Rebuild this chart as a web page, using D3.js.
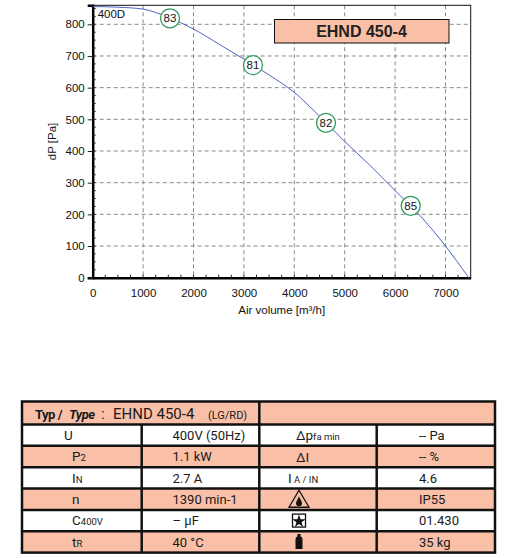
<!DOCTYPE html>
<html>
<head>
<meta charset="utf-8">
<script src="https://cdn.jsdelivr.net/npm/d3@7"></script>
<style>
  body { margin: 0; background: #fff; }
  svg { display: block; }
</style>
</head>
<body>
<div id="chart1"></div>
<script>
const width = 505;
const height = 558;

// fan curve (air volume m3/h -> static pressure Pa)
const airVolume = [0, 500, 1000, 1500, 2000, 2500, 3000, 3500, 4000, 4500, 5000, 5500, 6000, 6500, 7000, 7460];
const pressure = [856, 854, 848, 822, 785, 738, 690, 640, 585, 510, 430, 355, 275, 195, 100, 0];

// noise level markers on the curve
const markerFlow = [1534, 3180, 4629, 6310];
const markerPressure = [819, 671, 489, 227];
const markerLevel = ["83", "81", "82", "85"];

const xTicks = [0, 1000, 2000, 3000, 4000, 5000, 6000, 7000];
const yTicks = [0, 100, 200, 300, 400, 500, 600, 700, 800];

const modelName = "EHND 450-4";
const curveName = "400D";

// table
const leftSymbols = [["U", ""], ["P", "2"], ["I", "N"], ["n", ""], ["C", "400V"], ["t", "R"]];
const leftValues = ["400V (50Hz)", "1.1 kW", "2.7 A", "1390 min-1", "\u2013 \u00b5F", "40 \u00b0C"];
const rightSymbols = [["\u0394p", "fa min"], ["\u0394I", ""], ["I", " A / I", "N"], ["warn"], ["star"], ["weight"]];
const rightValues = ["-- Pa", "-- %", "4.6", "IP55", "01.430", "35 kg"];

const salmon = "#f9c0a7";

const margin = {top: 5.3, left: 92.7, right: 505 - 470.7, bottom: 558 - 277.7};

const svg = d3.select("#chart1").append("svg").attr("width", width).attr("height", height)
    .style("font-family", "'Liberation Sans', Arial, sans-serif");

const xScale = d3.scaleLinear().domain([0, 7500]).range([margin.left, width - margin.right]);
const yScale = d3.scaleLinear().domain([0, 860]).range([height - margin.bottom, margin.top]);

const plotBottom = yScale(0), plotTop = yScale(860), plotLeft = xScale(0), plotRight = xScale(7500);

// grid
svg.append("g").selectAll("line.vgrid")
    .data(xTicks.slice(1))
    .join("line")
    .attr("x1", d => xScale(d)).attr("x2", d => xScale(d))
    .attr("y1", plotTop).attr("y2", plotBottom)
    .attr("stroke", "#8a8a8a").attr("stroke-width", 1).attr("stroke-dasharray", "4,3");

svg.append("g").selectAll("line.hgrid")
    .data(yTicks.slice(1))
    .join("line")
    .attr("x1", plotLeft).attr("x2", plotRight)
    .attr("y1", d => yScale(d)).attr("y2", d => yScale(d))
    .attr("stroke", "#8a8a8a").attr("stroke-width", 1).attr("stroke-dasharray", "4,3");

// frame
svg.append("rect")
    .attr("x", plotLeft).attr("y", plotTop)
    .attr("width", plotRight - plotLeft).attr("height", plotBottom - plotTop)
    .attr("fill", "none").attr("stroke", "#111").attr("stroke-width", 1);

// axes
const xAxis = d3.axisBottom(xScale).tickValues(xTicks).tickSize(0).tickPadding(11).tickFormat(d3.format("d"));
const yAxis = d3.axisLeft(yScale).tickValues(yTicks).tickSize(5).tickPadding(3).tickFormat(d3.format("d"));

const gx = svg.append("g").attr("transform", `translate(0,${plotBottom})`).call(xAxis);
const gy = svg.append("g").attr("transform", `translate(${plotLeft},0)`).call(yAxis);
[gx, gy].forEach(g => {
    g.select(".domain").attr("stroke", "#000").attr("stroke-width", 2.5);
    g.selectAll("text").attr("font-size", 11.5).attr("fill", "#111").attr("font-family", "'Liberation Sans', Arial, sans-serif");
    g.selectAll(".tick line").attr("stroke", "#222");
});

// minor ticks
svg.append("g").selectAll("line")
    .data(d3.range(250, 7500, 250))
    .join("line")
    .attr("x1", d => xScale(d)).attr("x2", d => xScale(d))
    .attr("y1", plotBottom).attr("y2", plotBottom - 3)
    .attr("stroke", "#222").attr("stroke-width", 1);

svg.append("g").selectAll("line")
    .data(d3.range(25, 860, 25))
    .join("line")
    .attr("x1", plotLeft).attr("x2", plotLeft + 3)
    .attr("y1", d => yScale(d)).attr("y2", d => yScale(d))
    .attr("stroke", "#222").attr("stroke-width", 1);

// axis titles
svg.append("text")
    .attr("transform", `translate(56,${(plotTop + plotBottom) / 2}) rotate(-90)`)
    .attr("text-anchor", "middle")
    .attr("font-size", 11.5).attr("fill", "#111")
    .text("dP [Pa]");

svg.append("text")
    .attr("x", (plotLeft + plotRight) / 2).attr("y", 314)
    .attr("text-anchor", "middle")
    .attr("font-size", 11.5).attr("fill", "#111")
    .text("Air volume [m\u00b3/h]");

// curve
const curveData = airVolume.map((v, i) => ({flow: v, dp: pressure[i]}));
svg.append("path")
    .datum(curveData)
    .attr("fill", "none")
    .attr("stroke", "#4e63c4")
    .attr("stroke-width", 1)
    .attr("d", d3.line().curve(d3.curveMonotoneX).x(d => xScale(d.flow)).y(d => yScale(d.dp)));

svg.append("text")
    .attr("x", plotLeft + 5).attr("y", plotTop + 13)
    .attr("font-size", 11.5).attr("fill", "#111")
    .text(curveName);

// markers
const markerData = markerFlow.map((v, i) => ({flow: v, dp: markerPressure[i], lvl: markerLevel[i]}));
const mk = svg.append("g").selectAll("g.marker")
    .data(markerData)
    .join("g")
    .attr("class", "marker")
    .attr("transform", d => `translate(${xScale(d.flow)},${yScale(d.dp)})`);
mk.append("circle").attr("r", 9.5).attr("fill", "#fff").attr("stroke", "#2f9a5c").attr("stroke-width", 1.3);
mk.append("text").attr("text-anchor", "middle").attr("dy", 4).attr("font-size", 11.5).attr("fill", "#111").text(d => d.lvl);

// title box
svg.append("rect")
    .attr("x", 274.5).attr("y", 19.5).attr("width", 174.5).attr("height", 23.5)
    .attr("fill", salmon).attr("stroke", "#111").attr("stroke-width", 1);
svg.append("text")
    .attr("x", 361.5).attr("y", 37)
    .attr("text-anchor", "middle")
    .attr("font-size", 16).attr("font-weight", "bold").attr("fill", "#222")
    .text(modelName);

// ---------- table ----------
const tableLeft = 22, tableRight = 495;
const tableTop = 401.5, headerH = 23, rowH = 21.35;
const colX = [tableLeft, 141.7, 259.3, 376.7, tableRight];
const tableBottom = tableTop + headerH + rowH * leftSymbols.length;
const rowTop = i => tableTop + headerH + i * rowH;

const tbl = svg.append("g").attr("font-family", "Roboto, 'Liberation Sans', sans-serif").attr("fill", "#1a1a1a");

// backgrounds
tbl.append("rect").attr("x", tableLeft).attr("y", tableTop)
    .attr("width", tableRight - tableLeft).attr("height", headerH).attr("fill", salmon);
tbl.selectAll("rect.row")
    .data(leftSymbols)
    .join("rect")
    .attr("class", "row")
    .attr("x", tableLeft).attr("y", (d, i) => rowTop(i))
    .attr("width", tableRight - tableLeft).attr("height", rowH)
    .attr("fill", (d, i) => i % 2 ? salmon : "#fff");

// header text
const hdr = tbl.append("text").attr("y", tableTop + 17).attr("font-size", 14);
hdr.append("tspan").attr("x", 35).attr("font-weight", "bold").attr("font-size", 13).attr("letter-spacing", -0.5).text("Typ /");
hdr.append("tspan").attr("x", 69).attr("font-weight", "bold").attr("font-style", "italic").attr("font-size", 13).attr("letter-spacing", -0.5).text("Type");
hdr.append("tspan").attr("x", 101).attr("font-size", 15).text(":");
hdr.append("tspan").attr("x", 113).attr("font-size", 15).text(modelName);
hdr.append("tspan").attr("x", 208).attr("font-size", 11).text("(LG/RD)");

// left symbols
tbl.selectAll("text.lsym")
    .data(leftSymbols)
    .join("text")
    .attr("class", "lsym")
    .attr("x", (d, i) => i === 0 ? 64 : 72)
    .attr("y", (d, i) => rowTop(i) + 15.5)
    .attr("font-size", 13.5)
    .each(function(d) {
        const t = d3.select(this);
        t.append("tspan").text(d[0]);
        if (d[1]) t.append("tspan").attr("font-size", 9.5).text(d[1]);
    });

tbl.selectAll("text.lval")
    .data(leftValues)
    .join("text")
    .attr("class", "lval")
    .attr("x", 172.5)
    .attr("y", (d, i) => rowTop(i) + 15.5)
    .attr("font-size", 13)
    .text(d => d);

// right symbols
tbl.selectAll("g.rsym")
    .data(rightSymbols)
    .join("g")
    .attr("class", "rsym")
    .attr("transform", (d, i) => `translate(299,${rowTop(i) + rowH / 2})`)
    .each(function(d) {
        const g = d3.select(this);
        if (d[0] === "warn") {
            g.append("path").attr("d", "M0,-9 L10,8 L-10,8 Z").attr("fill", "none").attr("stroke", "#111").attr("stroke-width", 1.3);
            g.append("path").attr("d", "M0,-3 C1,0 3,2 3,4 A3,3 0 0 1 -3,4 C-3,2 -1,0 0,-3 Z").attr("fill", "#111");
        } else if (d[0] === "star") {
            g.append("rect").attr("x", -6.5).attr("y", -6.5).attr("width", 13).attr("height", 13)
                .attr("fill", "#fff").attr("stroke", "#111").attr("stroke-width", 1.3);
            g.append("path").attr("d", d3.symbol(d3.symbolStar, 55)()).attr("fill", "#111").attr("transform", "translate(0,0.8)");
        } else if (d[0] === "weight") {
            g.append("path").attr("d", "M-1.5,-8 L1.5,-8 L1.5,-5.5 C3.5,-5 3.5,-3.5 3.5,-2 L3.5,7 L-3.5,7 L-3.5,-2 C-3.5,-3.5 -3.5,-5 -1.5,-5.5 Z").attr("fill", "#111");
        } else {
            const t = g.append("text").attr("x", d.length === 3 ? -11 : -3).attr("y", 5).attr("font-size", 13.5);
            t.append("tspan").text(d[0]);
            if (d[1]) t.append("tspan").attr("font-size", 9.5).text(d[1]);
            if (d[2]) t.append("tspan").attr("font-size", 9.5).text(d[2]);
        }
    });

tbl.selectAll("text.rval")
    .data(rightValues)
    .join("text")
    .attr("class", "rval")
    .attr("x", 419)
    .attr("y", (d, i) => rowTop(i) + 15.5)
    .attr("font-size", 13)
    .text(d => d);

// grid lines of the table
const border = svg.append("g").attr("stroke", "#111").attr("stroke-width", 2.5);
d3.range(leftSymbols.length).forEach(i => {
    border.append("line").attr("x1", tableLeft).attr("x2", tableRight).attr("y1", rowTop(i)).attr("y2", rowTop(i));
});
border.append("line").attr("x1", colX[2]).attr("x2", colX[2]).attr("y1", tableTop).attr("y2", tableBottom);
[colX[1], colX[3]].forEach(x => {
    border.append("line").attr("x1", x).attr("x2", x).attr("y1", tableTop + headerH).attr("y2", tableBottom);
});
border.append("rect").attr("x", tableLeft).attr("y", tableTop)
    .attr("width", tableRight - tableLeft).attr("height", tableBottom - tableTop).attr("fill", "none");
</script>
</body>
</html>
